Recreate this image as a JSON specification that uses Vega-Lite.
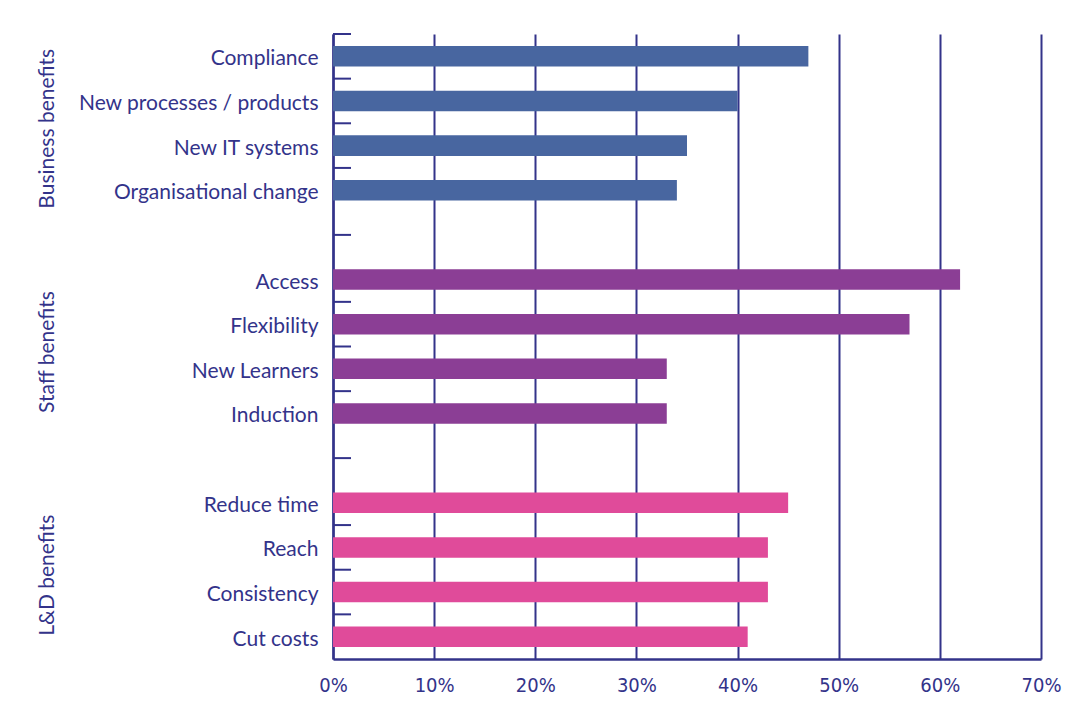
{
  "$schema": "https://vega.github.io/schema/vega-lite/v6.json",
  "autosize": "none",
  "width": 708,
  "height": 625,
  "padding": {"left": 333, "top": 34, "right": 51, "bottom": 61},
  "background": "white",
  "config": {"view": {"stroke": null}},
  "datasets": {
    "bars": [
      {"group": "Business benefits", "item": "Compliance", "share": 0.47},
      {"group": "Business benefits", "item": "New processes / products", "share": 0.40},
      {"group": "Business benefits", "item": "New IT systems", "share": 0.35},
      {"group": "Business benefits", "item": "Organisational change", "share": 0.34},
      {"group": "Staff benefits", "item": "Access", "share": 0.62},
      {"group": "Staff benefits", "item": "Flexibility", "share": 0.57},
      {"group": "Staff benefits", "item": "New Learners", "share": 0.33},
      {"group": "Staff benefits", "item": "Induction", "share": 0.33},
      {"group": "L&D benefits", "item": "Reduce time", "share": 0.45},
      {"group": "L&D benefits", "item": "Reach", "share": 0.43},
      {"group": "L&D benefits", "item": "Consistency", "share": 0.43},
      {"group": "L&D benefits", "item": "Cut costs", "share": 0.41}
    ],
    "ticks": [
      {"item": "Compliance", "kind": "edge"},
      {"item": "New processes / products", "kind": "edge"},
      {"item": "New IT systems", "kind": "edge"},
      {"item": "Organisational change", "kind": "edge"},
      {"item": "gap1", "kind": "mid"},
      {"item": "Flexibility", "kind": "edge"},
      {"item": "New Learners", "kind": "edge"},
      {"item": "Induction", "kind": "edge"},
      {"item": "gap2", "kind": "mid"},
      {"item": "Reach", "kind": "edge"},
      {"item": "Consistency", "kind": "edge"},
      {"item": "Cut costs", "kind": "edge"}
    ],
    "groups": [
      {"group": "Business benefits"},
      {"group": "Staff benefits"},
      {"group": "L&D benefits"}
    ]
  },
  "layer": [
    {
      "layer": [
        {
          "data": {"name": "bars"},
          "mark": {"type": "bar", "height": {"band": 0.46}},
          "encoding": {
            "y": {
              "field": "item", "type": "nominal", "sort": null,
              "scale": {"domain": ["Compliance","New processes / products","New IT systems","Organisational change","gap1","Access","Flexibility","New Learners","Induction","gap2","Reduce time","Reach","Consistency","Cut costs"], "paddingInner": 0, "paddingOuter": 0},
              "axis": {
                "title": null, "ticks": false, "tickSize": 0, "labelPadding": 15, "labelLimit": 400,
                "labelExpr": "indexof(datum.value, 'gap') == 0 ? '' : datum.value",
                "labelFont": "Lato", "labelFontSize": 21, "labelColor": "#33338a",
                "domain": true, "domainColor": "#33338a", "domainWidth": 2.5,
                "labelBaseline": "middle", "labelOffset": 3
              }
            },
            "x": {
              "field": "share", "type": "quantitative",
              "scale": {"domain": [0, 0.7], "nice": false},
              "axis": {
                "title": null, "values": [0, 0.1, 0.2, 0.3, 0.4, 0.5, 0.6, 0.7], "format": ".0%",
                "ticks": false, "tickSize": 0, "labelPadding": 16, "labelFlush": false,
                "grid": true, "gridColor": "#33338a", "gridWidth": 2, "gridOpacity": 1,
                "domain": true, "domainColor": "#33338a", "domainWidth": 2.5,
                "labelFont": "DejaVu Sans Condensed",
                "labelFontSize": 20, "labelColor": "#33338a"
              }
            },
            "color": {
              "field": "group", "type": "nominal",
              "scale": {"domain": ["Business benefits", "Staff benefits", "L&D benefits"], "range": ["#4866a0", "#8b3e95", "#e04b9a"]},
              "legend": null
            }
          }
        },
        {
          "data": {"name": "ticks"},
          "transform": [{"filter": "datum.kind == 'edge'"}],
          "mark": {"type": "rule", "color": "#33338a", "strokeWidth": 2},
          "encoding": {
            "y": {"field": "item", "type": "nominal", "bandPosition": 0, "sort": null},
            "x": {"datum": 0},
            "x2": {"datum": 0.0178}
          }
        },
        {
          "data": {"name": "ticks"},
          "transform": [{"filter": "datum.kind == 'mid'"}],
          "mark": {"type": "rule", "color": "#33338a", "strokeWidth": 2},
          "encoding": {
            "y": {"field": "item", "type": "nominal", "bandPosition": 0.5, "sort": null},
            "x": {"datum": 0},
            "x2": {"datum": 0.0178}
          }
        }
      ]
    },
    {
      "data": {"name": "groups"},
      "mark": {"type": "text", "text": ""},
      "encoding": {
        "y": {
          "field": "group", "type": "nominal", "sort": null,
          "scale": {"type": "point", "domain": ["Business benefits", "Staff benefits", "L&D benefits"], "padding": 0.4},
          "axis": {
            "orient": "left", "title": null, "ticks": false, "tickSize": 0, "domain": false, "grid": false,
            "labelPadding": 286, "labelAngle": 270, "labelAlign": "center", "labelBaseline": "middle", "labelLimit": 400,
            "labelOffset": 5, "labelFont": "Lato", "labelFontSize": 21, "labelColor": "#33338a"
          }
        }
      }
    }
  ],
  "resolve": {"scale": {"y": "independent"}, "axis": {"y": "independent"}}
}
